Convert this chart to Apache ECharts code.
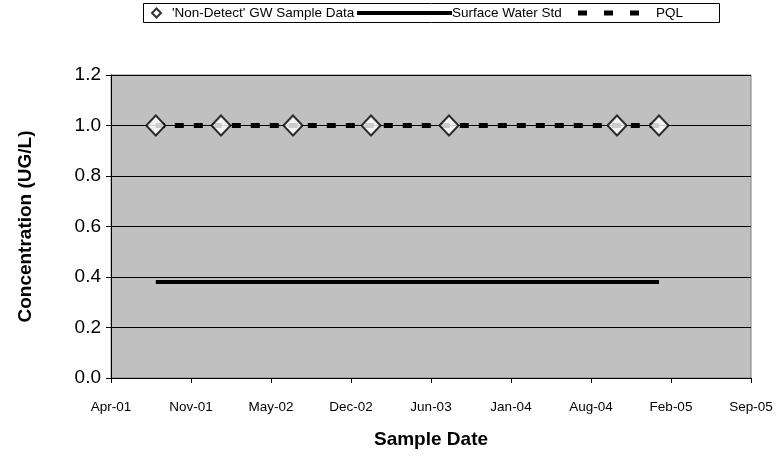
<!DOCTYPE html>
<html>
<head>
<meta charset="utf-8">
<script src="https://cdn.jsdelivr.net/npm/echarts@6/dist/echarts.min.js"></script>
<style>
	html, body { margin: 0; padding: 0; background: #fff; }
	#chart { width: 782px; height: 461px; }
</style>
</head>
<body>
<div id="chart"></div>
<script>
// sample dates
var sampleDates = ['2001-08-09', '2002-01-19', '2002-07-18', '2003-01-29', '2003-08-12', '2004-10-05', '2005-01-18'];
var sampleValues = [1.0, 1.0, 1.0, 1.0, 1.0, 1.0, 1.0];
var surfaceStd = [0.38, 0.38, 0.38, 0.38, 0.38, 0.38, 0.38];
var pqlValues = [1.0, 1.0, 1.0, 1.0, 1.0, 1.0, 1.0];
var seriesNames = ["'Non-Detect' GW Sample Data", 'Surface Water Std', 'PQL'];
// x axis in excel day numbers: Apr-01 .. Sep-05
var xMin = 37000, xMax = 38600, xStep = 200;
var yTicks = [0, 0.2, 0.4, 0.6, 0.8, 1.0, 1.2];

var months = ['Jan','Feb','Mar','Apr','May','Jun','Jul','Aug','Sep','Oct','Nov','Dec'];
var excelBase = Date.UTC(1899, 11, 30);

function toSerial(s){
	var p = s.split('-');
	return (Date.UTC(+p[0], +p[1] - 1, +p[2]) - excelBase) / 86400000;
}
function serialLabel(v){
	var d = new Date(excelBase + v * 86400000);
	var yy = String(d.getUTCFullYear() % 100);
	if(yy.length < 2) yy = '0' + yy;
	return months[d.getUTCMonth()] + '-' + yy;
}
function pairs(vals){
	var out = [];
	for(var i = 0; i < sampleDates.length; i++){
		out.push([toSerial(sampleDates[i]), vals[i]]);
	}
	return out;
}

var myChart = echarts.init(document.getElementById('chart'), null, {renderer: 'canvas'});
var font = 'Liberation Sans, Arial, sans-serif';
var legendText = { fontFamily: font, fontSize: 13.5, color: '#000', lineHeight: 16 };

var option = {
	animation: false,
	backgroundColor: '#fff',
	textStyle: { fontFamily: font, color: '#000' },
	graphic: [{
		type: 'rect',
		z: -1,
		shape: { x: 143.5, y: 3.5, width: 576, height: 19 },
		style: { fill: '#fff', stroke: '#000', lineWidth: 1 }
	}],
	legend: [
		{
			data: [{ name: seriesNames[0], icon: 'diamond' }], left: 151, top: 5, padding: 0,
			itemWidth: 9, itemHeight: 9,
			itemStyle: { color: '#fff', borderColor: '#000', borderWidth: 2 },
			textStyle: Object.assign({ padding: [0, 0, 0, 6] }, legendText)
		},
		{
			// solid thick bar
			data: [{ name: seriesNames[1], icon: 'rect' }], left: 357, top: 5, padding: 0,
			itemWidth: 95, itemHeight: 4,
			itemStyle: { color: '#000' },
			textStyle: Object.assign({ padding: [0, 0, 0, -5] }, legendText)
		},
		{
			// three short dashes
			data: [{ name: seriesNames[2], icon: 'path://M0,0h9v5h-9z M26,0h9v5h-9z M52,0h9v5h-9z' }],
			left: 578, top: 5, padding: 0,
			itemWidth: 61, itemHeight: 5,
			itemStyle: { color: '#000' },
			textStyle: Object.assign({ padding: [0, 0, 0, 12] }, legendText)
		}
	],
	grid: {
		left: 111, right: 31, top: 75, bottom: 83,
		show: true, backgroundColor: '#C0C0C0', borderColor: '#808080', borderWidth: 1
	},
	xAxis: {
		type: 'value',
		min: xMin, max: xMax, interval: xStep,
		name: 'Sample Date', nameLocation: 'middle', nameGap: 52,
		nameTextStyle: { fontFamily: font, fontSize: 19, fontWeight: 'bold', color: '#000' },
		axisLine: { show: true, lineStyle: { color: '#000', width: 1 } },
		axisTick: { show: true, length: 5, lineStyle: { color: '#000' } },
		axisLabel: {
			fontFamily: font, fontSize: 13.5, color: '#000', margin: 22,
			formatter: function(v){ return serialLabel(v); }
		},
		splitLine: { show: false }
	},
	yAxis: {
		type: 'value',
		min: yTicks[0], max: yTicks[yTicks.length - 1], interval: 0.2,
		name: 'Concentration (UG/L)', nameLocation: 'middle', nameGap: 76,
		nameTextStyle: { fontFamily: font, fontSize: 19, fontWeight: 'bold', color: '#000' },
		axisLine: { show: true, lineStyle: { color: '#000', width: 1 } },
		axisTick: { show: true, length: 5, lineStyle: { color: '#000' } },
		axisLabel: {
			fontFamily: font, fontSize: 19, color: '#000', margin: 10,
			formatter: function(v){ return v.toFixed(1); }
		},
		splitLine: { show: true, lineStyle: { color: '#000', width: 1 } }
	},
	series: [
		{
			name: seriesNames[1],
			type: 'line',
			data: pairs(surfaceStd),
			symbol: 'none',
			lineStyle: { color: '#000', width: 4, type: 'solid' },
			itemStyle: { color: '#000' },
			z: 2
		},
		{
			name: seriesNames[2],
			type: 'line',
			data: pairs(pqlValues),
			symbol: 'none',
			lineStyle: { color: '#000', width: 5, type: [9, 10] },
			itemStyle: { color: '#000' },
			z: 3
		},
		{
			name: seriesNames[0],
			type: 'scatter',
			data: pairs(sampleValues),
			symbol: 'diamond',
			symbolSize: [19, 20],
			itemStyle: { color: '#fff', borderColor: '#000', borderWidth: 2 },
			z: 4
		}
	]
};

myChart.setOption(option);
</script>
</body>
</html>
